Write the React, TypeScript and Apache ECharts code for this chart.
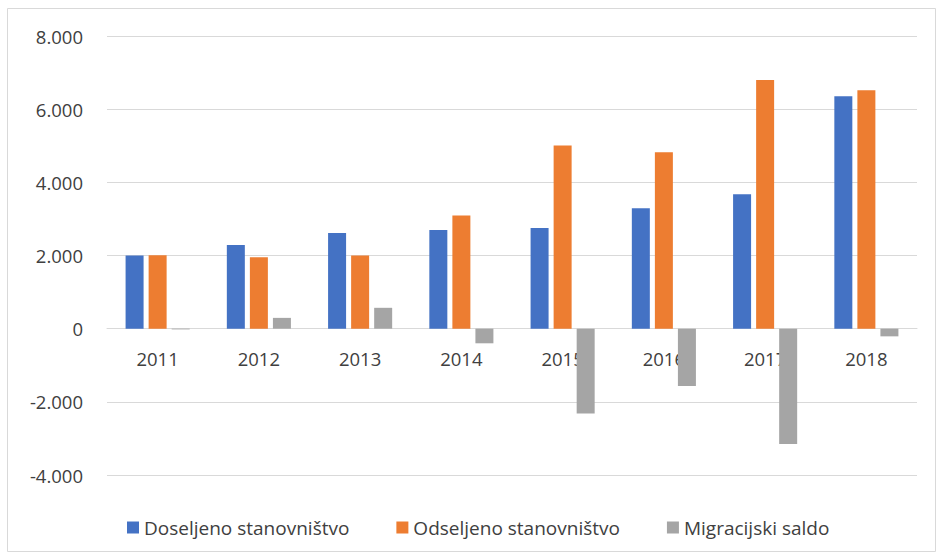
import React, { useEffect, useRef } from "react";
import * as echarts from "echarts";

const categories = ["2011", "2012", "2013", "2014", "2015", "2016", "2017", "2018"];
const doseljeno = [2000, 2285, 2615, 2700, 2750, 3290, 3675, 6355];
const odseljeno = [2005, 1950, 2000, 3090, 5010, 4825, 6795, 6520];
const saldo = [-20, 295, 570, -400, -2320, -1570, -3155, -210];
const seriesNames = ["Doseljeno stanovništvo", "Odseljeno stanovništvo", "Migracijski saldo"];
const colors = ["#4472C4", "#ED7D31", "#A5A5A5"];
const yMin = -4000;
const yMax = 8000;

const fmt = (v: number) => {
  const s = Math.abs(v).toString().replace(/\B(?=(\d{3})+(?!\d))/g, ".");
  return (v < 0 ? "-" : "") + s;
};

export default function App() {
  const ref = useRef<HTMLDivElement>(null);
  useEffect(() => {
    if (!ref.current) return;
    const chart = echarts.init(ref.current, undefined, { renderer: "svg" });
    const gridTop = 36;
    const gridBottom = 81;
    const plotH = 556 - gridTop - gridBottom;
    const zeroOffset = -(plotH * (0 - yMin)) / (yMax - yMin);
    const mk = (name: string, data: number[], color: string) => ({
      name,
      type: "bar",
      data,
      barWidth: 18,
      barGap: "28%",
      itemStyle: { color },
    });
    chart.setOption({
      animation: false,
      color: colors,
      graphic: [
        {
          type: "rect",
          shape: { x: 7.5, y: 8.5, width: 928, height: 543 },
          style: { fill: "none", stroke: "#d9d9d9", lineWidth: 1 },
          silent: true,
        },
      ],
      grid: { left: 107, right: 21, top: gridTop, bottom: gridBottom },
      legend: {
        left: 122,
        top: 513,
        itemWidth: 12,
        itemHeight: 12,
        itemGap: 47,
        icon: "rect",
        textStyle: { fontFamily: "Open Sans", fontSize: 19, color: "#404040" },
        data: seriesNames,
      },
      xAxis: {
        type: "category",
        data: categories,
        position: "bottom",
        offset: zeroOffset,
        axisLine: { show: true, onZero: false, lineStyle: { color: "#d9d9d9", width: 1 } },
        axisTick: { show: false },
        axisLabel: { fontFamily: "Open Sans", fontSize: 18.5, color: "#404040", margin: 20 },
      },
      yAxis: {
        type: "value",
        min: yMin,
        max: yMax,
        interval: 2000,
        axisLine: { show: false },
        axisTick: { show: false },
        splitLine: { lineStyle: { color: "#d9d9d9", width: 1 } },
        axisLabel: {
          fontFamily: "Open Sans",
          fontSize: 18.5,
          color: "#404040",
          margin: 24,
          formatter: (v: number) => fmt(v),
        },
      },
      series: [
        mk(seriesNames[0], doseljeno, colors[0]),
        mk(seriesNames[1], odseljeno, colors[1]),
        mk(seriesNames[2], saldo, colors[2]),
      ],
    });
    return () => chart.dispose();
  }, []);
  return (
    <div
      ref={ref}
      style={{ position: "fixed", left: 0, top: 0, width: 938, height: 556, background: "#fff" }}
    />
  );
}
